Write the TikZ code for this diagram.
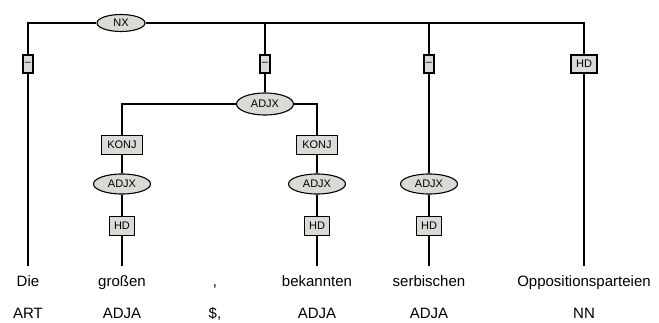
\documentclass[tikz,border=0pt]{standalone}
\usepackage{fontspec}
\setmainfont{Liberation Sans}
\usetikzlibrary{shapes.geometric}
\definecolor{catfill}{RGB}{217,219,214}
\begin{document}
\begin{tikzpicture}[x=1pt,y=-1pt,line width=1.1pt,
  cat/.style={draw, ellipse, fill=catfill, inner sep=0pt, font=\fontsize{11}{12}\selectfont},
  func/.style={draw, rectangle, fill=catfill, inner sep=0pt, minimum height=18, font=\fontsize{11}{12}\selectfont},
  word/.style={anchor=base, inner sep=0pt, font=\fontsize{15}{18}\selectfont}]
\useasboundingbox (0,0) rectangle (659,323);
% top level
\node[cat, minimum width=48, minimum height=17] (nx) at (121,23) {NX};
\coordinate (c1) at (28,23);
\coordinate (c2) at (265,23);
\coordinate (c3) at (429,23);
\coordinate (c4) at (584,23);
\node[func, minimum width=10] (e1) at (28,64) {--};
\node[func, minimum width=10] (e2) at (265,64) {--};
\node[func, minimum width=10] (e3) at (429,64) {--};
\node[func, minimum width=26] (e4) at (584,64) {HD};
% coordinated adjectives
\node[cat, minimum width=57, minimum height=22] (adjx) at (265,104) {ADJX};
\coordinate (j1) at (122,104);
\coordinate (j2) at (317,104);
\node[func, minimum width=41, minimum height=19] (k1) at (122,145) {KONJ};
\node[func, minimum width=41, minimum height=19] (k2) at (317,145) {KONJ};
\node[cat, minimum width=57, minimum height=20] (a1) at (122,184) {ADJX};
\node[cat, minimum width=57, minimum height=20] (a2) at (317,184) {ADJX};
\node[cat, minimum width=57, minimum height=20] (a3) at (429,184) {ADJX};
\node[func, minimum width=25, minimum height=19] (h1) at (122,226) {HD};
\node[func, minimum width=25, minimum height=19] (h2) at (317,226) {HD};
\node[func, minimum width=25, minimum height=19] (h3) at (429,226) {HD};
% words and tags
\coordinate (t1) at (28,266);
\coordinate (t2) at (122,266);
\coordinate (t3) at (317,266);
\coordinate (t4) at (429,266);
\coordinate (t5) at (584,266);
\node[word] (w1) at (28,287) {Die};
\node[word] (w2) at (122,287) {großen};
\node[word] (w3) at (215,287) {,};
\node[word] (w4) at (317,287) {bekannten};
\node[word] (w5) at (429,287) {serbischen};
\node[word] (w6) at (584,287) {Oppositionsparteien};
\node[word] (p1) at (28,319) {ART};
\node[word] (p2) at (122,319) {ADJA};
\node[word] (p3) at (215,319) {\$,};
\node[word] (p4) at (317,319) {ADJA};
\node[word] (p5) at (429,319) {ADJA};
\node[word] (p6) at (584,319) {NN};
% edges
\draw (nx) -- (c1) -- (e1) -- (t1);
\draw (nx) -- (c4) -- (e4) -- (t5);
\draw (c2) -- (e2) -- (adjx);
\draw (c3) -- (e3) -- (a3) -- (h3) -- (t4);
\draw (adjx) -- (j1) -- (k1) -- (a1) -- (h1) -- (t2);
\draw (adjx) -- (j2) -- (k2) -- (a2) -- (h2) -- (t3);
\end{tikzpicture}
\end{document}
